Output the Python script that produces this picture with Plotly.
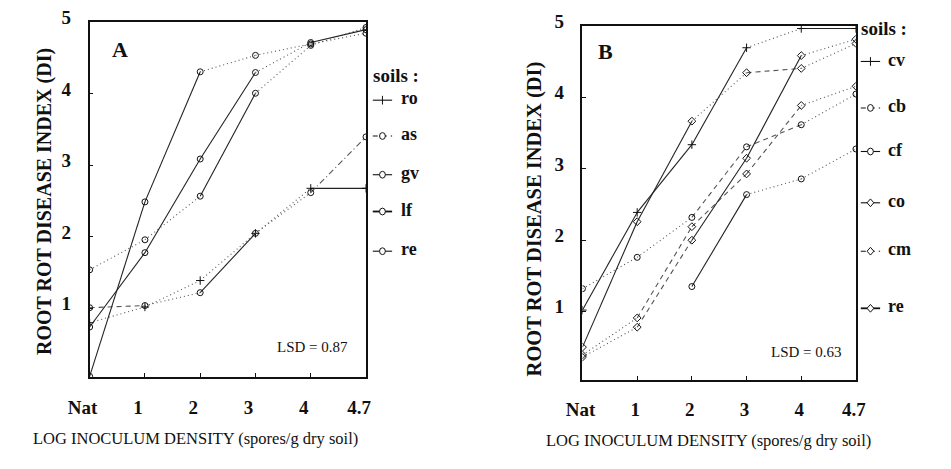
import plotly.graph_objects as go

# ---------------- data ----------------
doses = ["Nat", "1", "2", "3", "4", "4.7"]

# Panel A soils
ro_a = [0.80, 1.02, 1.39, 2.05, 2.68, 2.68]
as_a = [1.01, 1.04, 1.22, 2.05, 2.62, 3.40]
gv_a = [1.54, 1.96, 2.57, 4.01, 4.68, 4.93]
lf_a = [0.74, 1.78, 3.09, 4.30, 4.72, 4.90]
re_a = [0.05, 2.49, 4.31, 4.54, 4.70, 4.85]

# Panel B soils
cv_b = [1.02, 2.39, 3.34, 4.70, 4.97, 4.97]
cb_b = [1.32, 1.76, 2.32, 3.31, 3.62, 4.05]
cf_b = [None, None, 1.35, 2.64, 2.86, 3.28]
co_b = [0.50, 2.26, 3.67, 4.35, 4.41, 4.76]
cm_b = [0.39, 0.91, 2.19, 2.93, 3.89, 4.16]
re_b = [0.36, 0.78, 2.00, 3.15, 4.59, 4.82]

y_ticks = [1, 2, 3, 4, 5]
lsd_a = "LSD = 0.87"
lsd_b = "LSD = 0.63"

# ---------------- styles ----------------
S, D, T, DD = "solid", "5px,4px", "1px,3px", "6px,3px,1px,3px"

series_a = [
    ("ro", ro_a, [T, T, T, T, S], "cross-thin-open", S, 1.1),
    ("as", as_a, [D, T, S, T, DD], "circle-open", D, 1.1),
    ("gv", gv_a, [T, T, S, T, T], "circle-open", S, 1.1),
    ("lf", lf_a, [S, S, S, T, S], "circle-open", S, 1.8),
    ("re", re_a, [S, S, T, T, T], "circle-open", S, 1.1),
]
series_b = [
    ("cv", cv_b, [S, S, S, T, S], "cross-thin-open", S, 1.1),
    ("cb", cb_b, [T, T, D, D, T], "circle-open", D, 1.1),
    ("cf", cf_b, [None, None, S, T, T], "circle-open", S, 1.1),
    ("co", co_b, [S, S, T, D, T], "diamond-open", S, 1.1),
    ("cm", cm_b, [T, D, D, D, T], "diamond-open", D, 1.1),
    ("re", re_b, [T, D, S, S, T], "diamond-open", S, 1.8),
]

W, H = 951, 469
SERIF = "Liberation Serif"
INK = "#111"


def X(px):
    return px / W


def Y(py):
    return 1 - py / H


fig = go.Figure()


def add_panel(series, xa, ya):
    for name, vals, segs, sym, lstyle, lw in series:
        for i in range(len(vals) - 1):
            if vals[i] is None or vals[i + 1] is None or segs[i] is None:
                continue
            col = "#222" if segs[i] == S else "#555"
            fig.add_trace(go.Scatter(
                x=[doses[i], doses[i + 1]], y=[vals[i], vals[i + 1]],
                mode="lines", line=dict(color=col, width=1.1, dash=segs[i]),
                xaxis=xa, yaxis=ya, showlegend=False, hoverinfo="skip"))
        fig.add_trace(go.Scatter(
            x=doses, y=vals, mode="markers", name=name,
            marker=dict(symbol=sym, size=6, color=INK,
                        line=dict(width=1, color=INK)),
            xaxis=xa, yaxis=ya, showlegend=False))


add_panel(series_a, "x", "y")
add_panel(series_b, "x2", "y2")

tickfont = dict(family=SERIF, size=19, color=INK, weight="bold")


def xax(domain, shift):
    return dict(domain=domain, type="category", categoryorder="array",
                categoryarray=doses, range=[0, 5], showgrid=False,
                zeroline=False, showline=True, mirror=True,
                linecolor=INK, linewidth=1.5, ticks="inside", ticklen=4,
                tickcolor=INK, tickfont=tickfont,
                ticklabelstandoff=12, ticklabelshift=shift)


def yax(domain, anchor, standoff):
    return dict(domain=domain, anchor=anchor, range=[0.04, 5.01],
                tickvals=y_ticks, showgrid=False, zeroline=False,
                showline=True, mirror=True, linecolor=INK, linewidth=1.5,
                ticks="inside", ticklen=4, tickcolor=INK,
                tickfont=tickfont, ticklabelstandoff=standoff,
                ticklabelshift=-5, ticklabeloverflow="allow")


fig.update_layout(
    width=W, height=H, autosize=False,
    margin=dict(l=0, r=0, t=0, b=0),
    paper_bgcolor="white", plot_bgcolor="white",
    xaxis=dict(**xax([X(70), X(356)], -7), anchor="y"),
    yaxis=yax([Y(374), Y(7)], "x", 13),
    xaxis2=dict(**xax([X(580), X(863)], -2), anchor="y2"),
    yaxis2=yax([Y(377), Y(11)], "x2", 13),
    showlegend=False,
)


def ann(text, x, y, size, bold=False, angle=0, xanchor="center"):
    fig.add_annotation(text=text, x=X(x), y=Y(y), xref="paper",
                       yref="paper", showarrow=False, textangle=angle,
                       xanchor=xanchor, yanchor="middle",
                       font=dict(family=SERIF, size=size, color=INK,
                                 weight="bold" if bold else "normal"))


# ---------------- hand-drawn legends (key layout) ----------------
def draw_key(series, x_line, x_text, ys, title_xy):
    ann("soils :", title_xy[0], title_xy[1], 19, bold=True, xanchor="left")
    for (name, vals, segs, sym, lstyle, lw), yk in zip(series, ys):
        xm = x_line + 10
        fig.add_shape(type="line", xref="paper", yref="paper",
                      x0=X(x_line), x1=X(x_line + 20), y0=Y(yk), y1=Y(yk),
                      line=dict(color=INK, width=lw, dash=lstyle))
        if sym.startswith("circle"):
            fig.add_shape(type="circle", xref="paper", yref="paper",
                          x0=X(xm - 3), x1=X(xm + 3), y0=Y(yk + 3.5),
                          y1=Y(yk - 3.5), fillcolor="white",
                          line=dict(color=INK, width=1))
        elif sym.startswith("diamond"):
            path = (f"M {X(xm)},{Y(yk - 4)} L {X(xm + 3.5)},{Y(yk)} "
                    f"L {X(xm)},{Y(yk + 4)} L {X(xm - 3.5)},{Y(yk)} Z")
            fig.add_shape(type="path", xref="paper", yref="paper", path=path,
                          fillcolor="white", line=dict(color=INK, width=1))
        else:
            fig.add_shape(type="line", xref="paper", yref="paper",
                          x0=X(xm), x1=X(xm), y0=Y(yk - 4.5), y1=Y(yk + 4.5),
                          line=dict(color=INK, width=1))
        ann(name, x_text, yk - 2, 18, bold=True, xanchor="left")


draw_key(series_a, 363, 390, [88, 125, 165, 203, 244], (361, 62))
draw_key(series_b, 868, 894, [48, 96, 141, 194, 244, 303], (866, 14))

ann("ROOT ROT DISEASE INDEX (DI)", 24, 193, 20, bold=True, angle=-90)
ann("ROOT ROT DISEASE INDEX (DI)", 530, 211, 20.5, bold=True, angle=-90)
ann("LOG INOCULUM DENSITY (spores/g dry soil)", 180, 437, 16.5)
ann("LOG INOCULUM DENSITY (spores/g dry soil)", 710, 440, 16.5)
ann("A", 101, 36, 22, bold=True)
ann("B", 604, 38, 22, bold=True)
ann(lsd_a, 339, 343, 15, xanchor="right")
ann(lsd_b, 851, 348, 15, xanchor="right")

fig.write_html("out.html")
